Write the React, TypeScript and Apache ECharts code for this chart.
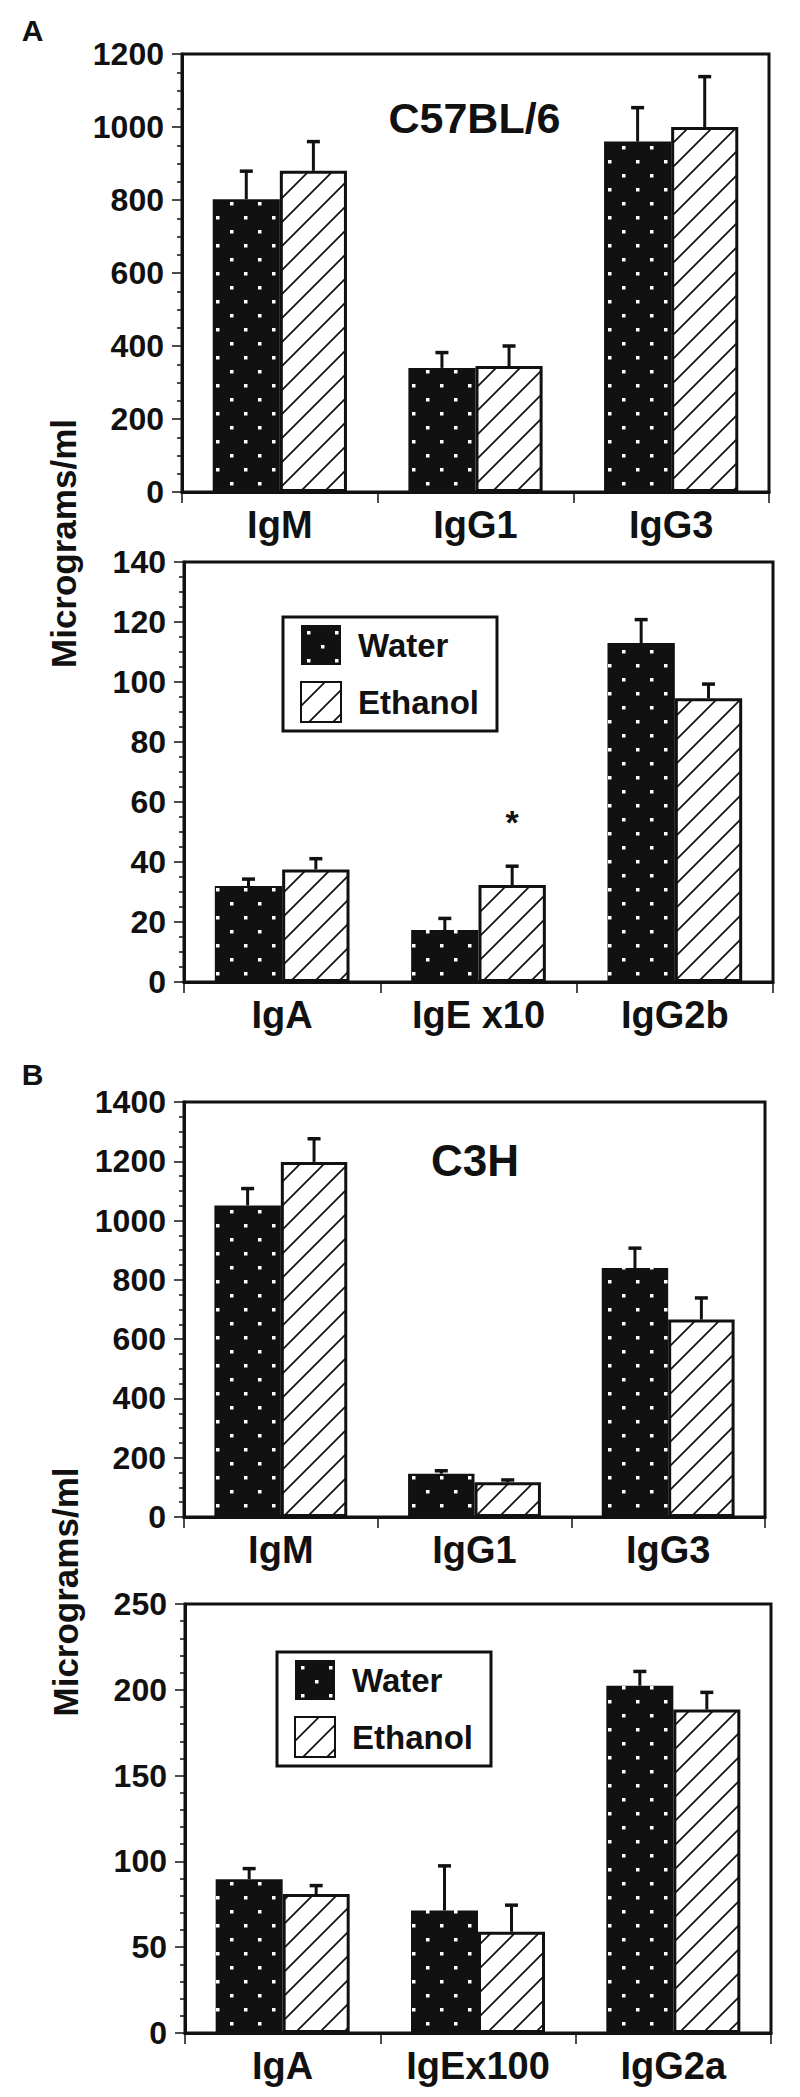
import React, { useEffect, useRef } from 'react';
import * as echarts from 'echarts';

const FONT = '"Liberation Sans", Arial, Helvetica, sans-serif';
const INK = '#111';

// ---- Data ----
// Panel A, C57BL/6, upper
const catsA1 = ['IgM', 'IgG1', 'IgG3'];
const waterA1 = [802, 340, 960];
const waterErrA1 = [77, 42, 93];
const ethanolA1 = [880, 345, 1000];
const ethanolErrA1 = [80, 55, 138];

// Panel A, C57BL/6, lower
const catsA2 = ['IgA', 'IgE x10', 'IgG2b'];
const waterA2 = [32, 17.3, 113];
const waterErrA2 = [2.3, 3.9, 7.8];
const ethanolA2 = [37.5, 32.3, 94.6];
const ethanolErrA2 = [3.6, 6.3, 4.7];
const signifA2 = ['', '*', ''];

// Panel B, C3H, upper
const catsB1 = ['IgM', 'IgG1', 'IgG3'];
const waterB1 = [1051, 146, 840];
const waterErrB1 = [57, 10, 67];
const ethanolB1 = [1198, 117, 666];
const ethanolErrB1 = [78, 8, 73];

// Panel B, C3H, lower
const catsB2 = ['IgA', 'IgEx100', 'IgG2a'];
const waterB2 = [89.6, 71.4, 202.4];
const waterErrB2 = [6.2, 26, 8.3];
const ethanolB2 = [81, 59, 188.5];
const ethanolErrB2 = [4.9, 15.5, 10];

// y-axis scales
const yMax = [1200, 140, 1400, 250];
const yInterval = [200, 20, 200, 50];
const yMinorSplit = [4, 4, 4, 5];

const BAR_FRAC = 0.343;

function makeDots(): HTMLCanvasElement {
  const c = document.createElement('canvas');
  c.width = 28;
  c.height = 28;
  const ctx = c.getContext('2d')!;
  ctx.fillStyle = INK;
  ctx.fillRect(0, 0, 28, 28);
  ctx.fillStyle = '#fff';
  ctx.fillRect(6, 6, 3.5, 3.5);
  ctx.fillRect(20, 20, 3.5, 3.5);
  return c;
}

function makeHatch(): HTMLCanvasElement {
  const s = 24;
  const c = document.createElement('canvas');
  c.width = s;
  c.height = s;
  const ctx = c.getContext('2d')!;
  ctx.fillStyle = '#fff';
  ctx.fillRect(0, 0, s, s);
  ctx.strokeStyle = INK;
  ctx.lineWidth = 1.7;
  ctx.beginPath();
  ctx.moveTo(-2, s + 2);
  ctx.lineTo(s + 2, -2);
  ctx.moveTo(-3, 3);
  ctx.lineTo(3, -3);
  ctx.moveTo(s - 3, s + 3);
  ctx.lineTo(s + 3, s - 3);
  ctx.stroke();
  return c;
}

export default function App() {
  const ref = useRef<HTMLDivElement>(null);

  useEffect(() => {
    if (!ref.current) return;
    const chart = echarts.init(ref.current, undefined, { renderer: 'svg' });

    const dots = makeDots();
    const hatch = makeHatch();
    const dotPattern: any = { image: dots, repeat: 'repeat', imageWidth: 28, imageHeight: 28 };
    const hatchPattern: any = { image: hatch, repeat: 'repeat', imageWidth: 24, imageHeight: 24 };

    const panels = [
      { cats: catsA1, w: waterA1, we: waterErrA1, e: ethanolA1, ee: ethanolErrA1, sig: null as string[] | null,
        grid: { left: 182, top: 54, width: 587, height: 438 } },
      { cats: catsA2, w: waterA2, we: waterErrA2, e: ethanolA2, ee: ethanolErrA2, sig: signifA2,
        grid: { left: 184, top: 562, width: 589, height: 420 } },
      { cats: catsB1, w: waterB1, we: waterErrB1, e: ethanolB1, ee: ethanolErrB1, sig: null,
        grid: { left: 184, top: 1102, width: 581, height: 415 } },
      { cats: catsB2, w: waterB2, we: waterErrB2, e: ethanolB2, ee: ethanolErrB2, sig: null,
        grid: { left: 185, top: 1604, width: 586, height: 429 } },
    ];

    const grids: any[] = [];
    const xAxes: any[] = [];
    const yAxes: any[] = [];
    const series: any[] = [];

    const errRender = (sign: number) => (params: any, api: any) => {
      const xi = api.value(0);
      const v = api.value(1);
      const e = api.value(2);
      const base = api.coord([xi, v]);
      const top = api.coord([xi, v + e]);
      const band = api.size([1, 0])[0];
      const cx = base[0] + (sign * band * BAR_FRAC) / 2;
      const cap = 6.5;
      return {
        type: 'group',
        children: [
          { type: 'line', shape: { x1: cx, y1: base[1], x2: cx, y2: top[1] }, style: { stroke: INK, lineWidth: 3 } },
          { type: 'line', shape: { x1: cx - cap, y1: top[1], x2: cx + cap, y2: top[1] }, style: { stroke: INK, lineWidth: 3.5 } },
        ],
      };
    };

    panels.forEach((p, i) => {
      grids.push({ ...p.grid, show: true, borderColor: INK, borderWidth: 3, backgroundColor: 'transparent' });
      xAxes.push({
        type: 'category',
        gridIndex: i,
        data: p.cats,
        axisLine: { show: true, lineStyle: { color: INK, width: 3 } },
        axisTick: { show: true, length: 11, lineStyle: { color: INK, width: 1.5 } },
        axisLabel: { fontSize: 38, fontWeight: 'bold', color: INK, fontFamily: FONT, margin: 14 },
        splitLine: { show: false },
      });
      yAxes.push({
        type: 'value',
        gridIndex: i,
        min: 0,
        max: yMax[i],
        interval: yInterval[i],
        axisLine: { show: true, lineStyle: { color: INK, width: 3 } },
        axisTick: { show: true, length: 10, lineStyle: { color: INK, width: 1.5 } },
        minorTick: { show: true, splitNumber: yMinorSplit[i], length: 5, lineStyle: { color: INK, width: 1.5 } },
        axisLabel: {
          fontSize: 32,
          fontWeight: 'bold',
          color: INK,
          fontFamily: FONT,
          margin: 18,
          formatter: (v: number) => String(v),
        },
        splitLine: { show: false },
        minorSplitLine: { show: false },
      });
      series.push({
        type: 'bar',
        name: 'Water',
        xAxisIndex: i,
        yAxisIndex: i,
        data: p.w,
        barWidth: (BAR_FRAC * 100).toFixed(1) + '%',
        barGap: '0%',
        itemStyle: { color: dotPattern, borderColor: INK, borderWidth: 0 },
        z: 2,
      });
      series.push({
        type: 'bar',
        name: 'Ethanol',
        xAxisIndex: i,
        yAxisIndex: i,
        data: p.e.map((v, j) =>
          p.sig && p.sig[j]
            ? {
                value: v,
                label: {
                  show: true,
                  position: 'top',
                  distance: 46,
                  formatter: p.sig[j],
                  fontSize: 34,
                  fontWeight: 'bold',
                  color: INK,
                  fontFamily: FONT,
                },
              }
            : v
        ),
        barWidth: (BAR_FRAC * 100).toFixed(1) + '%',
        barGap: '0%',
        itemStyle: { color: hatchPattern, borderColor: INK, borderWidth: 3 },
        z: 2,
      });
      series.push({
        type: 'custom',
        name: 'Water SEM',
        xAxisIndex: i,
        yAxisIndex: i,
        data: p.w.map((v, j) => [j, v, p.we[j]]),
        encode: { x: 0, y: 1 },
        renderItem: errRender(-1),
        z: 3,
      });
      series.push({
        type: 'custom',
        name: 'Ethanol SEM',
        xAxisIndex: i,
        yAxisIndex: i,
        data: p.e.map((v, j) => [j, v, p.ee[j]]),
        encode: { x: 0, y: 1 },
        renderItem: errRender(1),
        z: 3,
      });
    });

    const legendBase = {
      orient: 'vertical',
      data: ['Water', 'Ethanol'],
      itemWidth: 40,
      itemHeight: 40,
      itemGap: 16,
      icon: 'rect',
      selectedMode: false,
      padding: [8, 18, 8, 17],
      borderColor: INK,
      borderWidth: 3,
      backgroundColor: '#fff',
      textStyle: { fontSize: 33, fontWeight: 'bold', color: INK, fontFamily: FONT, padding: [0, 0, 0, 12] },
    };

    const txt = (x: number, y: number, text: string, size: number, extra: any = {}) => ({
      type: 'text',
      x,
      y,
      ...extra,
      style: {
        text,
        fontSize: size,
        fontWeight: 'bold',
        fontFamily: FONT,
        fill: INK,
        textAlign: 'center',
        textVerticalAlign: 'middle',
      },
    });

    chart.setOption({
      animation: false,
      backgroundColor: '#fff',
      grid: grids,
      xAxis: xAxes,
      yAxis: yAxes,
      series,
      legend: [
        { ...legendBase, left: 283, top: 617 },
        { ...legendBase, left: 277, top: 1652 },
      ],
      graphic: [
        txt(32.5, 30, 'A', 30),
        txt(32.5, 1074, 'B', 30),
        txt(474.5, 118, 'C57BL/6', 43),
        txt(475, 1160, 'C3H', 44),
        txt(63, 543.5, 'Micrograms/ml', 35, { rotation: Math.PI / 2 }),
        txt(65, 1592, 'Micrograms/ml', 35, { rotation: Math.PI / 2 }),
      ],
    });

    return () => chart.dispose();
  }, []);

  return (
    <div
      ref={ref}
      style={{ position: 'absolute', left: 0, top: 0, width: 800, height: 2097, background: '#fff' }}
    />
  );
}
